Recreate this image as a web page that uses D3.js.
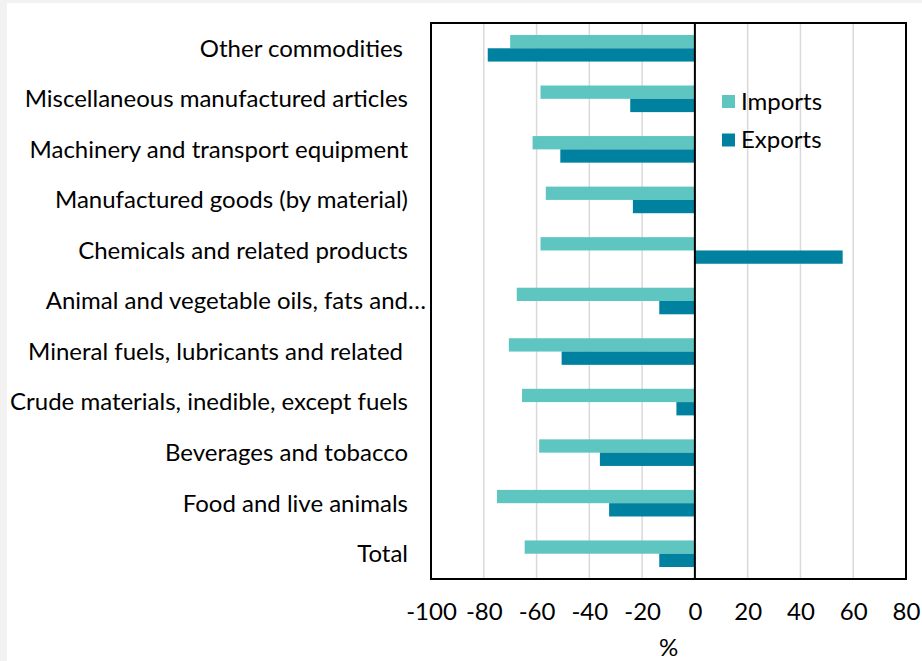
<!DOCTYPE html>
<html>
<head>
<meta charset="utf-8">
<script src="https://cdn.jsdelivr.net/npm/d3@7"></script>
<style>
  body { margin: 0; background: #f2f2f2; }
  text { font-family: Lato, "Open Sans", sans-serif; fill: #000; }
</style>
</head>
<body>
<svg id="chart" width="922" height="661"></svg>
<script>
// categories, top to bottom
const categories = [
    "Other commodities",
    "Miscellaneous manufactured articles",
    "Machinery and transport equipment",
    "Manufactured goods (by material)",
    "Chemicals and related products",
    "Animal and vegetable oils, fats and\u2026",
    "Mineral fuels, lubricants and related",
    "Crude materials, inedible, except fuels",
    "Beverages and tobacco",
    "Food and live animals",
    "Total"
];
const imports = [-70, -58.5, -61.5, -56.5, -58.5, -67.5, -70.5, -65.5, -59, -75, -64.5];
const exports_ = [-78.5, -24.5, -51, -23.5, 56, -13.5, -50.5, -7, -36, -32.5, -13.5];
const series = ["Imports", "Exports"];
const series_colors = ["#5ec5c1", "#00819f"];
const x_ticks = [-100, -80, -60, -40, -20, 0, 20, 40, 60, 80];

const font_size = "24px";
const svg = d3.select("#chart");

// white panel (gray strip shows on the top and left edges)
svg.append("rect")
    .attr("x", 7).attr("y", 3)
    .attr("width", 922 - 7).attr("height", 661 - 3)
    .attr("fill", "#fff");

const plot = {left: 431, right: 906, top: 23, bottom: 579};

const x = d3.scaleLinear().domain([-100, 80]).range([plot.left, plot.right]);
const y = d3.scaleBand().domain(categories).range([plot.top, plot.bottom])
    .paddingInner(0.474).paddingOuter(0.237);
const y_sub = d3.scaleBand().domain(series).range([0, y.bandwidth()]);

// gridlines
svg.append("g")
    .selectAll("line")
    .data(x_ticks.filter(d => d > -100 && d < 80 && d !== 0))
    .join("line")
    .attr("x1", d => x(d)).attr("x2", d => x(d))
    .attr("y1", plot.top).attr("y2", plot.bottom)
    .attr("stroke", "#d9d9d9")
    .attr("stroke-width", 1.5);

// bars
const rows = categories.map((c, i) => ({cat: c, values: [imports[i], exports_[i]]}));
const group = svg.append("g")
    .selectAll("g")
    .data(rows)
    .join("g")
    .attr("transform", d => "translate(0," + y(d.cat) + ")");

group.selectAll("rect")
    .data(d => d.values.map((v, j) => ({key: series[j], value: v, color: series_colors[j]})))
    .join("rect")
    .attr("x", d => x(Math.min(0, d.value)))
    .attr("width", d => Math.abs(x(d.value) - x(0)))
    .attr("y", d => y_sub(d.key))
    .attr("height", y_sub.bandwidth())
    .attr("fill", d => d.color);

// zero line
svg.append("line")
    .attr("x1", x(0)).attr("x2", x(0))
    .attr("y1", plot.top).attr("y2", plot.bottom)
    .attr("stroke", "#000")
    .attr("stroke-width", 2);

// frame
svg.append("rect")
    .attr("x", plot.left).attr("y", plot.top)
    .attr("width", plot.right - plot.left)
    .attr("height", plot.bottom - plot.top)
    .attr("fill", "none")
    .attr("stroke", "#000")
    .attr("stroke-width", 2);

// x axis labels (plain hyphen for negatives)
const x_axis = svg.append("g")
    .attr("transform", "translate(0,612)")
    .call(d3.axisBottom(x).tickValues(x_ticks).tickSize(0).tickPadding(0)
        .tickFormat(d => String(d)));
x_axis.select(".domain").remove();
x_axis.selectAll("text")
    .attr("font-size", font_size)
    .attr("font-family", "Lato, sans-serif")
    .attr("fill", "#000")
    .attr("y", 0)
    .attr("dy", "0.35em");

svg.append("text")
    .attr("x", (plot.left + plot.right) / 2)
    .attr("y", 648)
    .attr("dy", "0.35em")
    .attr("text-anchor", "middle")
    .attr("font-size", font_size)
    .text("%");

// category labels
const y_axis = svg.append("g")
    .attr("transform", "translate(408,0)")
    .call(d3.axisLeft(y).tickSize(0).tickPadding(0));
y_axis.select(".domain").remove();
y_axis.selectAll("text")
    .attr("font-size", font_size)
    .attr("font-family", "Lato, sans-serif")
    .attr("fill", "#000")
    .attr("dy", "0.35em")
    .attr("dx", d => d.startsWith("Animal") ? 18 : (d === "Other commodities" || d.startsWith("Mineral")) ? -5 : 0);

// legend
const legend = svg.append("g")
    .selectAll("g")
    .data(series)
    .join("g")
    .attr("transform", (d, i) => "translate(722," + (95 + i * 38.5) + ")");
legend.append("rect")
    .attr("width", 13).attr("height", 13)
    .attr("fill", (d, i) => series_colors[i]);
legend.append("text")
    .attr("x", 19).attr("y", 6.5)
    .attr("dy", "0.35em")
    .attr("font-size", font_size)
    .text(d => d);
</script>
</body>
</html>
